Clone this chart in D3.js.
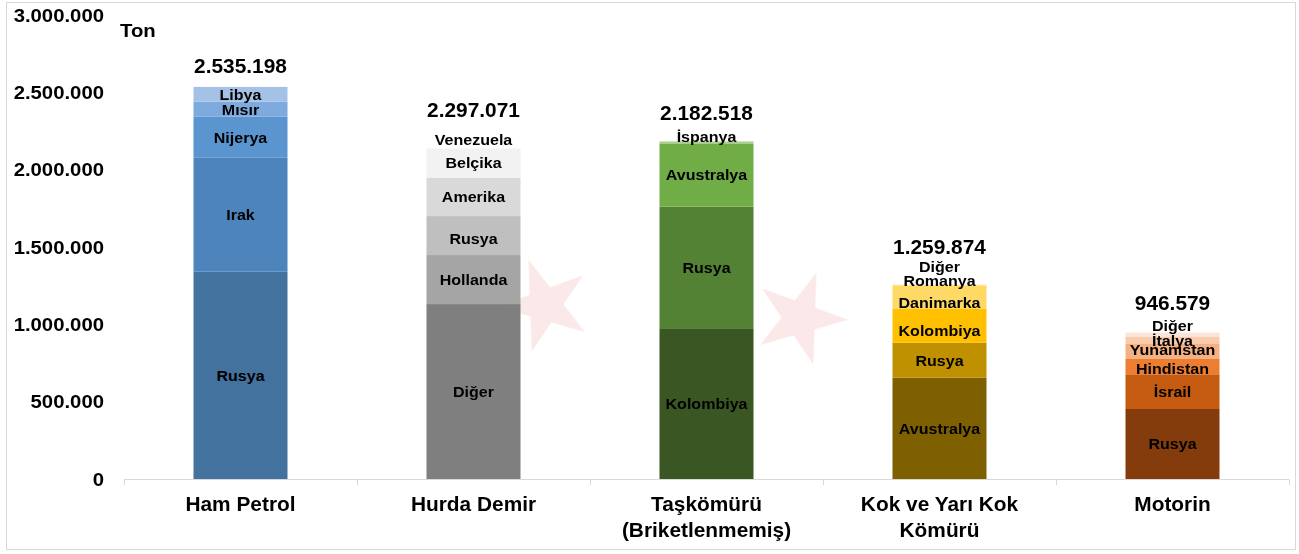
<!DOCTYPE html>
<html><head><meta charset="utf-8">
<script src="https://cdn.jsdelivr.net/npm/d3@7"></script>
<style>html,body{margin:0;padding:0;background:#fff;}svg{display:block;font-family:"Liberation Sans",Arial,sans-serif;font-weight:bold;}</style>
</head><body>
<svg id="chart" width="1299" height="554"></svg>
<script>
// ---- DATA ----
const categories = ["Ham Petrol", "Hurda Demir", "Taşkömürü (Briketlenmemiş)", "Kok ve Yarı Kok Kömürü", "Motorin"];
const categoryLines = [["Ham Petrol"], ["Hurda Demir"], ["Taşkömürü", "(Briketlenmemiş)"], ["Kok ve Yarı Kok", "Kömürü"], ["Motorin"]];
const hamPetrolCountries = ["Rusya", "Irak", "Nijerya", "Mısır", "Libya"];
const hamPetrolValues = [1340000, 737000, 265000, 97000, 96198];
const hurdaDemirCountries = ["Diğer", "Hollanda", "Rusya", "Amerika", "Belçika", "Venezuela"];
const hurdaDemirValues = [1131000, 317000, 252000, 248000, 190000, 159071];
const taskomuruCountries = ["Kolombiya", "Rusya", "Avustralya", "İspanya"];
const taskomuruValues = [970000, 791000, 409000, 12518];
const kokCountries = ["Avustralya", "Rusya", "Kolombiya", "Danimarka", "Romanya", "Diğer"];
const kokValues = [655000, 226000, 218000, 149000, 7000, 4874];
const motorinCountries = ["Rusya", "İsrail", "Hindistan", "Yunanistan", "İtalya", "Diğer"];
const motorinValues = [452600, 224400, 99000, 101000, 45000, 24579];
const totals = [2535198, 2297071, 2182518, 1259874, 946579];
const yTicks = [0, 500000, 1000000, 1500000, 2000000, 2500000, 3000000];
const yUnit = "Ton";

// ---- STYLE / LAYOUT ----
const palettes = [
  ["#44729f", "#4d84bb", "#5b95cf", "#7eaadd", "#a3c2e5"],
  ["#7f7f7f", "#a5a5a5", "#bfbfbf", "#d9d9d9", "#f2f2f2", "#ffffff"],
  ["#3a5623", "#548235", "#70ad47", "#a9d18e"],
  ["#7f6000", "#bf9000", "#ffc000", "#ffd966", "#ffe699", "#fff2cc"],
  ["#843c0c", "#c55a11", "#ed7d31", "#f4b183", "#f8cbad", "#fbe5d6"]
];
const labelNudge = [
  [0, 0, 0, 0, 0],
  [0, 0, 3, 0, 0, 4],
  [0, 0, 0, -6],
  [0, 0, 5, 5, -5, -18],
  [0, 0, 2, -1, 1, -9]
];
const totalNudge = [-21, -13, -28, -37, -29];
const SX = 1.07;

const countries = [hamPetrolCountries, hurdaDemirCountries, taskomuruCountries, kokCountries, motorinCountries];
const values = [hamPetrolValues, hurdaDemirValues, taskomuruValues, kokValues, motorinValues];

const svg = d3.select("#chart");
const fmt = d3.formatLocale({decimal: ",", thousands: ".", grouping: [3], currency: ["", ""]}).format(",d");

const y = d3.scaleLinear().domain([0, 3000000]).range([479, 15]);
const x = d3.scaleBand().domain(d3.range(categories.length)).range([124, 1289]).padding(0);
const barW = 94;

// faint watermark stars
const wm = svg.append("g").attr("opacity", 0.14).attr("fill", "#e05a5a");
const star = d3.symbol().type(d3.symbolStar).size(2600);
[[545, 305, -20], [800, 318, 20]].forEach(p => wm.append("path").attr("d", star()).attr("transform", `translate(${p[0]},${p[1]}) rotate(${p[2]})`));

// frame
svg.append("rect").attr("x", 6.5).attr("y", 2.5).attr("width", 1289).attr("height", 547)
  .attr("fill", "none").attr("stroke", "#d9d9d9").attr("stroke-width", 1);

function label(g, tx, ty, text, size, anchor) {
  return g.append("text")
    .attr("transform", `translate(${tx},${ty}) scale(${SX},1)`)
    .attr("text-anchor", anchor || "middle")
    .attr("dominant-baseline", "central")
    .attr("font-size", size)
    .attr("fill", "#000")
    .text(text);
}

// bars
const gBars = svg.append("g");
categories.forEach((c, i) => {
  const cx = x(i) + x.bandwidth() / 2;
  let acc = 0;
  const segs = values[i].map((v, j) => { const s = {v, y0: acc, y1: acc + v, name: countries[i][j], color: palettes[i][j], j}; acc += v; return s; });
  gBars.selectAll(null).data(segs).enter().append("rect")
    .attr("x", cx - barW / 2).attr("width", barW)
    .attr("y", d => y(d.y1)).attr("height", d => y(d.y0) - y(d.y1))
    .attr("fill", d => d.color);
  segs.forEach(d => {
    const ly = (y(d.y0) + y(d.y1)) / 2 + labelNudge[i][d.j];
    label(gBars, cx, ly, d.name, 15);
  });
  label(gBars, cx, y(totals[i]) + totalNudge[i], fmt(totals[i]), 19.5);
});

// x axis
const gx = svg.append("g");
gx.append("line").attr("x1", 124).attr("x2", 1289).attr("y1", 479.5).attr("y2", 479.5).attr("stroke", "#d9d9d9");
const bounds = d3.range(categories.length + 1).map(k => k < categories.length ? x(k) : x(categories.length - 1) + x.bandwidth());
gx.selectAll(null).data(bounds).enter().append("line")
  .attr("x1", d => Math.round(d) + 0.5).attr("x2", d => Math.round(d) + 0.5)
  .attr("y1", 479.5).attr("y2", 485).attr("stroke", "#d9d9d9");
categoryLines.forEach((lines, i) => {
  const cx = x(i) + x.bandwidth() / 2;
  lines.forEach((t, k) => label(gx, cx, 504 + k * 26, t, 19.5));
});

// y axis labels
const gy = svg.append("g");
yTicks.forEach(t => label(gy, 104, y(t), fmt(t), 19, "end"));
label(gy, 120, 30, yUnit, 19, "start");
</script>
</body></html>
